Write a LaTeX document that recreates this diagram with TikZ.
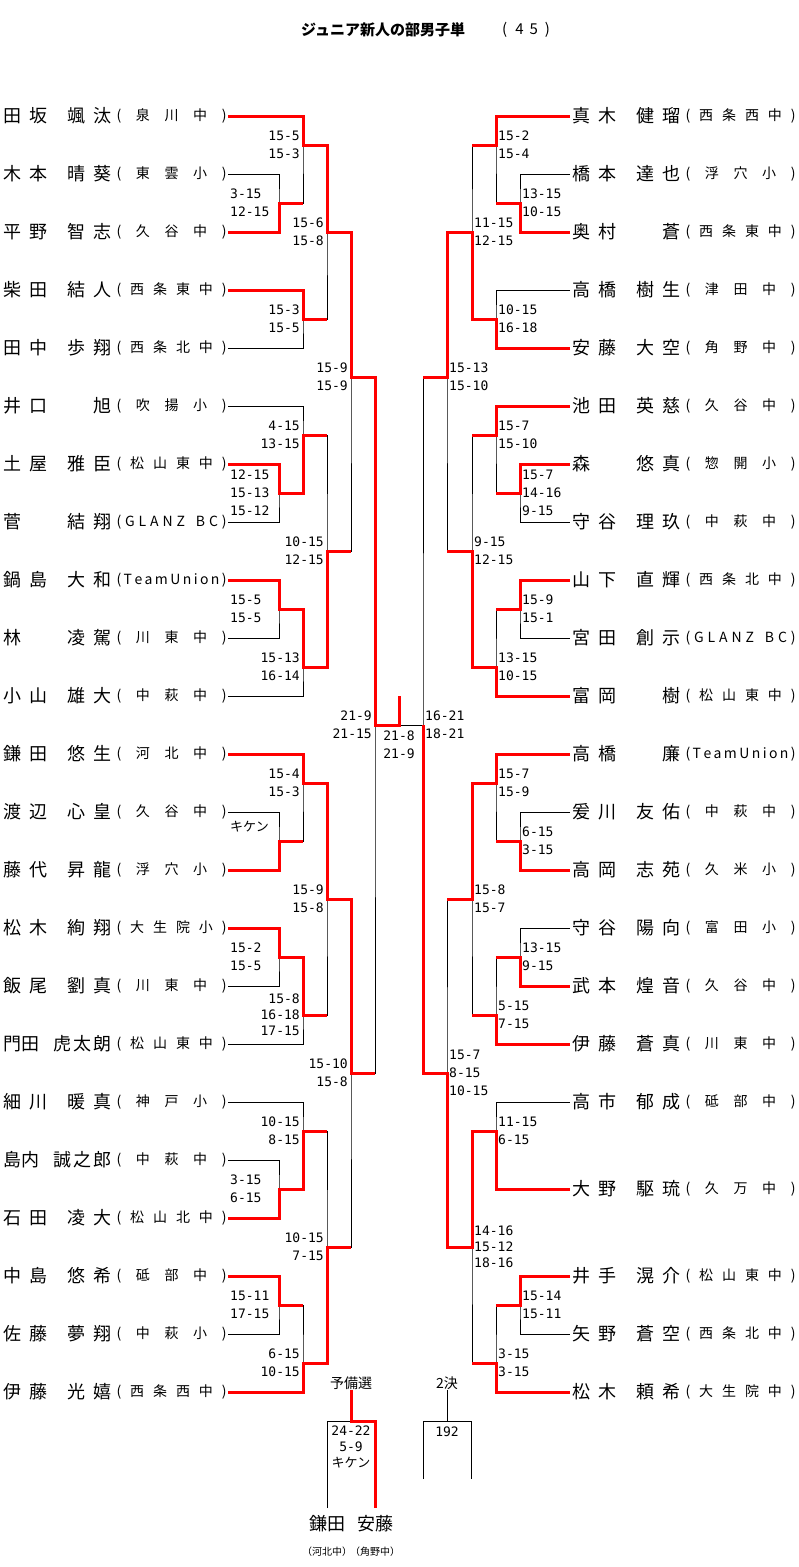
\documentclass[tikz,border=0pt]{standalone}
\usepackage{fontspec}
\setmainfont{Noto Sans CJK JP}
\newfontfamily\jp{Noto Sans CJK JP}
\newfontfamily\scorefont{DejaVu Sans Mono}
\usepackage{tikz}
\usetikzlibrary{positioning}

\newcommand\ks{\kern8pt}
\newcommand\plname[2]{\makebox[108pt][l]{#1\hfill#2}}
\def\spreadloop#1{\ifx#1\relax\else\hfill#1\expandafter\spreadloop\fi}
\newcommand\schoolbox[1]{\makebox[110pt][s]{(\expandafter\spreadloop#1\relax\hfill)}}

\begin{document}
\begin{tikzpicture}[x=1pt, y=-1pt,
  lose/.style={draw=black, line width=1pt},
  win/.style={draw=red, line width=3pt},
  pname/.style={inner sep=0pt, anchor=west, font=\jp\fontsize{18}{18}\selectfont},
  school/.style={inner sep=0pt, font=\jp\fontsize{14}{14}\selectfont},
  score/.style={inner sep=0pt, font=\scorefont\fontsize{13}{18}\selectfont},
  tight/.style={font=\scorefont\fontsize{13}{16}\selectfont},
  lscore/.style={score, align=right},
  rscore/.style={score, align=left},
  bracketlabel/.style={inner sep=0pt, font=\jp\fontsize{14}{14}\selectfont}]
  \fill[white] (0,0) rectangle (799,1567);
  \useasboundingbox (0,0) rectangle (799,1567);

  \node[inner sep=0pt, anchor=west, font=\jp\bfseries\fontsize{15}{15}\selectfont] (title) at (301,30) {ジュニア新人の部男子単};
  \node[inner sep=0pt, anchor=west, font=\jp\fontsize{15}{15}\selectfont] (entries) at (502,30) {(\kern8pt 4\kern6pt 5\kern7pt)};

  \foreach \y/\sn/\gn/\sch [count=\i] in {
    116/田\ks 坂/颯\ks 汰/泉川中, 174/木\ks 本/晴\ks 葵/東雲小, 232/平\ks 野/智\ks 志/久谷中,
    290/柴\ks 田/結\ks 人/西条東中, 348/田\ks 中/歩\ks 翔/西条北中, 406/井\ks 口/旭/吹揚小,
    464/土\ks 屋/雅\ks 臣/松山東中, 522/菅/結\ks 翔/GLANZ~BC, 580/鍋\ks 島/大\ks 和/TeamUnion,
    638/林/凌\ks 駕/川東中, 696/小\ks 山/雄\ks 大/中萩中, 754/鎌\ks 田/悠\ks 生/河北中,
    812/渡\ks 辺/心\ks 皇/久谷中, 870/藤\ks 代/昇\ks 龍/浮穴小, 928/松\ks 木/絢\ks 翔/大生院小,
    986/飯\ks 尾/劉\ks 真/川東中, 1044/門田/虎\kern2pt 太\kern2pt 朗/松山東中, 1102/細\ks 川/暖\ks 真/神戸小,
    1160/島内/誠\kern2pt 之\kern2pt 郎/中萩中, 1218/石\ks 田/凌\ks 大/松山北中, 1276/中\ks 島/悠\ks 希/砥部中,
    1334/佐\ks 藤/夢\ks 翔/中萩小, 1392/伊\ks 藤/光\ks 嬉/西条西中}
  {
    \node[pname] (L\i) at (3,\y) {\plname{\sn}{\gn}};
    \node[school, right=5pt of L\i] (Lsch\i) {\schoolbox{\sch}};
    \coordinate (l\i) at (228,\y);
  }

  \foreach \y/\sn/\gn/\sch [count=\i] in {
    116/真\ks 木/健\ks 瑠/西条西中, 174/橋\ks 本/達\ks 也/浮穴小, 232/奥\ks 村/蒼/西条東中,
    290/高\ks 橋/樹\ks 生/津田中, 348/安\ks 藤/大\ks 空/角野中, 406/池\ks 田/英\ks 慈/久谷中,
    464/森/悠\ks 真/惣開小, 522/守\ks 谷/理\ks 玖/中萩中, 580/山\ks 下/直\ks 輝/西条北中,
    638/宮\ks 田/創\ks 示/GLANZ~BC, 696/富\ks 岡/樹/松山東中, 754/高\ks 橋/廉/TeamUnion,
    812/爰\ks 川/友\ks 佑/中萩中, 870/高\ks 岡/志\ks 苑/久米小, 928/守\ks 谷/陽\ks 向/富田小,
    986/武\ks 本/煌\ks 音/久谷中, 1044/伊\ks 藤/蒼\ks 真/川東中, 1102/高\ks 市/郁\ks 成/砥部中,
    1189/大\ks 野/駆\ks 琉/久万中, 1276/井\ks 手/滉\ks 介/松山東中, 1334/矢\ks 野/蒼\ks 空/西条北中,
    1392/松\ks 木/頼\ks 希/大生院中}
  {
    \node[pname] (R\i) at (572,\y) {\plname{\sn}{\gn}};
    \node[school, right=5pt of R\i] (Rsch\i) {\schoolbox{\sch}};
    \coordinate (r\i) at (570,\y);
  }

  \foreach \m/\x/\y in {A1/279/203, A2/303/145, A3/303/319, A4/327/232, B1/279/493, B2/303/435,
    B3/279/609, B4/303/667, B5/327/551, AB/351/377, C1/279/841, C2/303/783, C3/279/957, C4/303/1015,
    C5/327/899, D1/279/1189, D2/303/1131, D3/279/1305, D4/303/1363, D5/327/1247, CD/351/1073, LS/375/725,
    RA1/520/203, RA2/496/145, RA3/496/319, RA4/472/232, RB1/520/493, RB2/496/435, RB3/520/609,
    RB4/496/667, RB5/472/551, RAB/447/377, RC1/520/841, RC2/496/783, RC3/520/957, RC4/496/1015,
    RC5/472/899, RD1/496/1131, RD2/520/1305, RD3/496/1363, RD4/472/1247, RCD/447/1073, RS/423/725,
    F/399/725, champ/399/696}
    \coordinate (\m) at (\x,\y);

  \foreach \a/\m/\b in {l2/A1/l3, l1/A2/A1, l4/A3/l5, A2/A4/A3, l7/B1/l8, l6/B2/B1, l9/B3/l10,
    B3/B4/l11, B2/B5/B4, A4/AB/B5, l13/C1/l14, l12/C2/C1, l15/C3/l16, C3/C4/l17, C2/C5/C4,
    l19/D1/l20, l18/D2/D1, l21/D3/l22, D3/D4/l23, D2/D5/D4, C5/CD/D5, AB/LS/CD,
    r2/RA1/r3, r1/RA2/RA1, r4/RA3/r5, RA2/RA4/RA3, r7/RB1/r8, r6/RB2/RB1, r9/RB3/r10,
    RB3/RB4/r11, RB2/RB5/RB4, RA4/RAB/RB5, r13/RC1/r14, r12/RC2/RC1, r15/RC3/r16, RC3/RC4/r17,
    RC2/RC5/RC4, r18/RD1/r19, r20/RD2/r21, RD2/RD3/r22, RD1/RD4/RD3, RC5/RCD/RD4, RAB/RS/RCD}
    \draw[lose] (\a) -| (\m) |- (\b);
  \draw[lose] (LS) -- (RS);

  \foreach \w/\m/\p in {l3/A1/A2, l1/A2/A4, l4/A3/A4, A2/A4/AB, l7/B1/B2, B1/B2/B5, l9/B3/B4,
    B3/B4/B5, B4/B5/AB, A4/AB/LS, l14/C1/C2, l12/C2/C5, l15/C3/C4, C3/C4/C5, C2/C5/CD,
    l20/D1/D2, D1/D2/D5, l21/D3/D4, l23/D4/D5, D4/D5/CD, C5/CD/LS,
    r3/RA1/RA2, r1/RA2/RA4, r5/RA3/RA4, RA3/RA4/RAB, r7/RB1/RB2, r6/RB2/RB5, r9/RB3/RB4,
    r11/RB4/RB5, RB4/RB5/RAB, RA4/RAB/RS, r14/RC1/RC2, r12/RC2/RC5, r16/RC3/RC4, r17/RC4/RC5,
    RC2/RC5/RCD, r19/RD1/RD4, r20/RD2/RD3, r22/RD3/RD4, RD1/RD4/RCD, RD4/RCD/RS}
    \draw[win] (\w) -| (\m) -- (\m -| \p);
  \draw[win] (AB) -| (LS) -| (champ);
  \draw[win] (RCD) -| (RS);

  \foreach \m/\t in {A2/{15-5\\15-3}, A3/{15-3\\15-5}, A4/{15-6\\15-8}, AB/{15-9\\15-9},
    B2/{4-15\\13-15}, B4/{15-13\\16-14}, B5/{10-15\\12-15}, LS/{21-9\\21-15}, C2/{15-4\\15-3},
    C5/{15-9\\15-8}, CD/{15-10\\15-8}, D2/{10-15\\8-15}, D4/{6-15\\10-15}, D5/{10-15\\7-15}}
    \node[lscore, left=3pt of \m] (s\m) {\t};
  \node[lscore, tight, left=3pt of C4] (sC4) {15-8\\16-18\\17-15};

  \foreach \m/\t in {A1/{3-15\\12-15}, B1/{12-15\\15-13\\15-12}, B3/{15-5\\15-5},
    C3/{15-2\\15-5}, D1/{3-15\\6-15}, D3/{15-11\\17-15}}
    \node[score, align=left, anchor=west, xshift=2pt] (s\m) at (\m -| l1) {\t};
  \node[inner sep=0pt, anchor=west, font=\jp\fontsize{13}{13}\selectfont] (sC1) at (230,827) {キケン};

  \foreach \m/\t in {RA1/{13-15\\10-15}, RA2/{15-2\\15-4}, RA3/{10-15\\16-18}, RA4/{11-15\\12-15},
    RAB/{15-13\\15-10}, RB1/{15-7\\14-16\\9-15}, RB2/{15-7\\15-10}, RB3/{15-9\\15-1},
    RB4/{13-15\\10-15}, RB5/{9-15\\12-15}, RS/{16-21\\18-21}, RC1/{6-15\\3-15}, RC2/{15-7\\15-9},
    RC3/{13-15\\9-15}, RC4/{5-15\\7-15}, RC5/{15-8\\15-7}, RCD/{15-7\\8-15\\10-15},
    RD1/{11-15\\6-15}, RD2/{15-14\\15-11}, RD3/{3-15\\3-15}}
    \node[rscore, right=2pt of \m] (s\m) {\t};
  \node[rscore, tight, right=2pt of RD4] (sRD4) {14-16\\15-12\\18-16};
  \node[score, align=center, below=6pt of F] (sF) {21-8\\21-9};

  \node[bracketlabel] (yosen) at (351,1383) {予備選};
  \node[bracketlabel] (nike) at (447,1383) {2決};
  \coordinate (ybm) at (351,1421);
  \coordinate (ybl) at (327,1508);
  \coordinate (ybr) at (375,1508);
  \coordinate (tpm) at (447,1421);
  \coordinate (tpl) at (423,1479);
  \coordinate (tpr) at (471,1479);
  \draw[lose] (ybl) |- (ybm) -| (ybr);
  \draw[win] (yosen.south) -- (ybm) -| (ybr);
  \draw[lose] (tpl) |- (tpm) -| (tpr);
  \draw[lose] (nike.south) -- (tpm);
  \node[score, tight, align=center, below=5pt of ybm] (syb) {24-22\\5-9\\{\jp キケン}};
  \node[score, below=6pt of tpm] (stp) {192};

  \node[inner sep=0pt, font=\jp\fontsize{18}{18}\selectfont] (kama) at (327,1524) {鎌田};
  \node[inner sep=0pt, font=\jp\fontsize{18}{18}\selectfont] (ando) at (375,1524) {安藤};
  \node[inner sep=0pt, font=\jp\fontsize{10}{10}\selectfont] (kamasch) at (327,1552) {（河北中）};
  \node[inner sep=0pt, font=\jp\fontsize{10}{10}\selectfont] (andosch) at (375,1552) {（角野中）};
\end{tikzpicture}
\end{document}
